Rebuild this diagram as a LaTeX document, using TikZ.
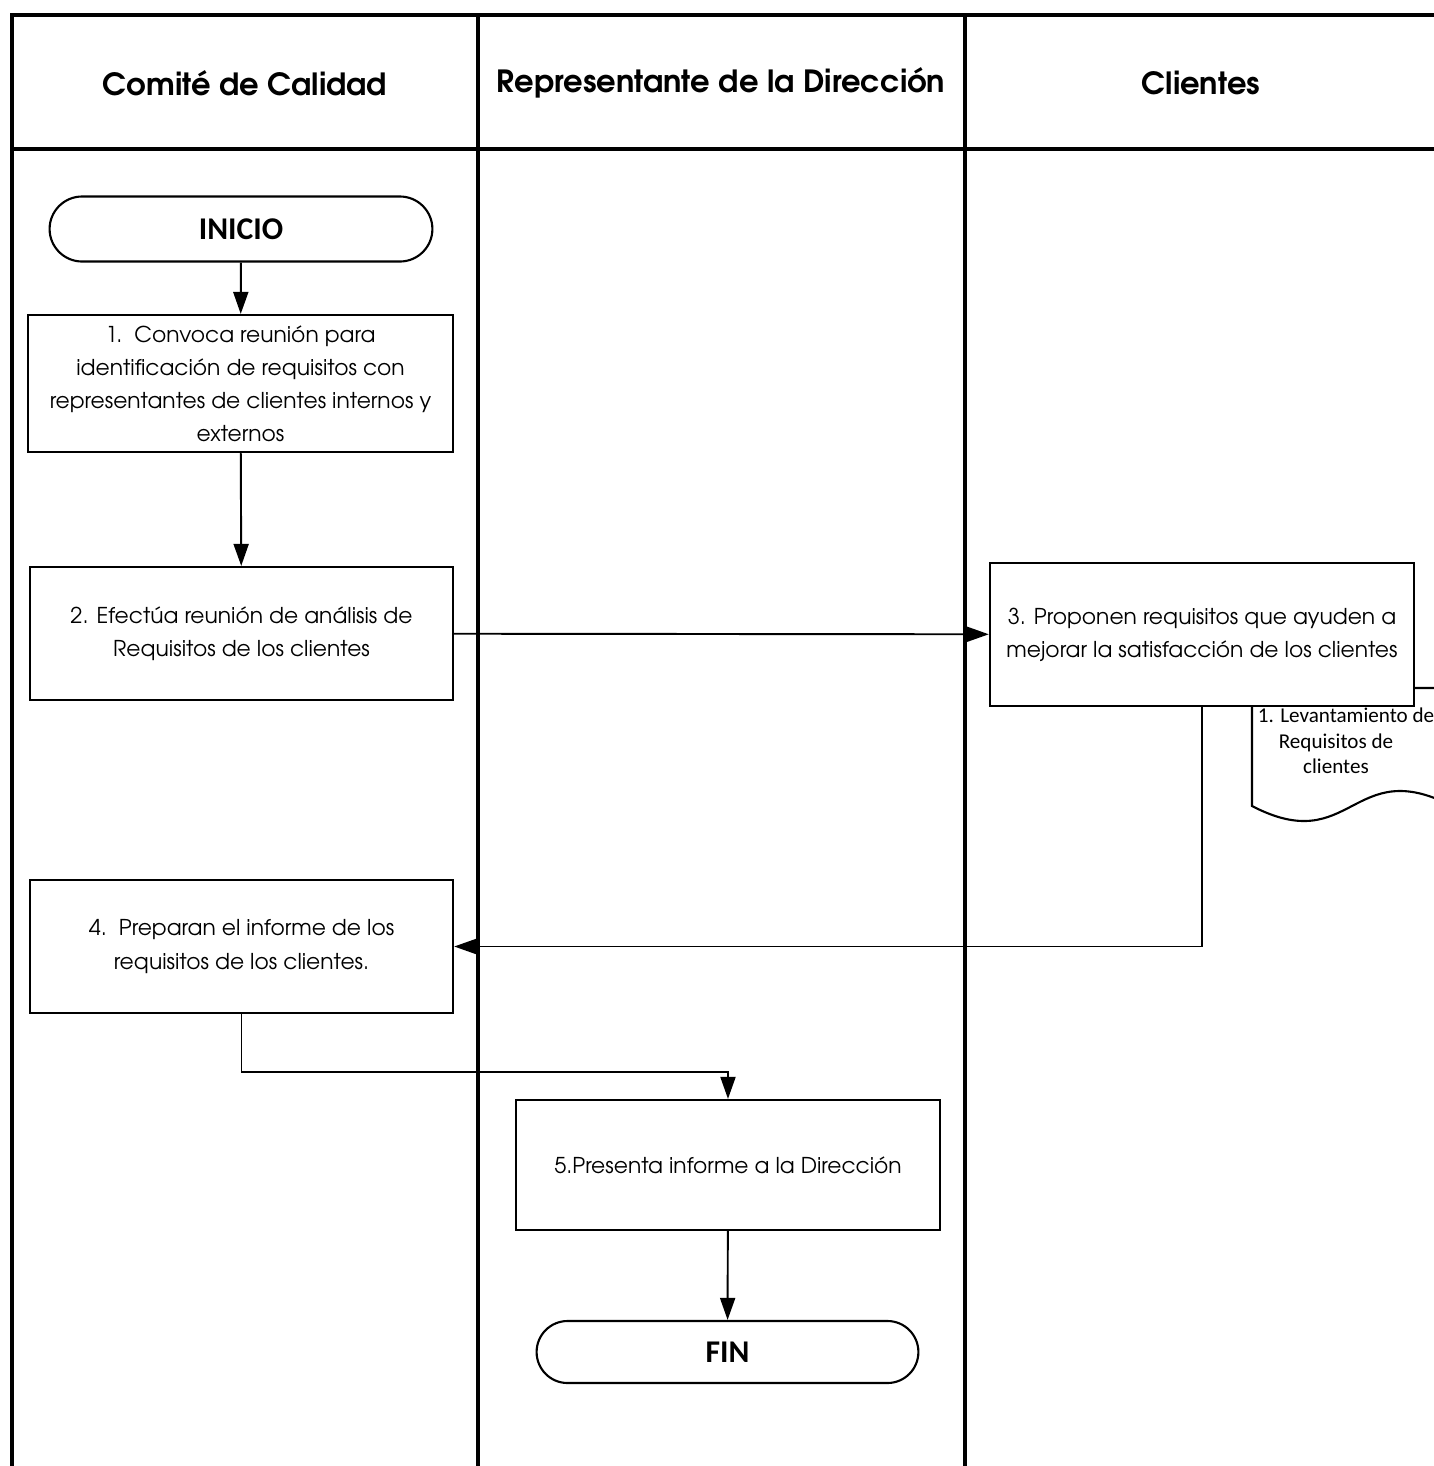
\documentclass[tikz,border=0pt]{standalone}
\usepackage{fontspec}
\newfontfamily\gothic{texgyreadventor}[Extension=.otf, UprightFont=*-regular, BoldFont=*-bold]
\newfontfamily\calib{Carlito}
\usetikzlibrary{shapes.misc,arrows.meta}

\begin{document}
\begin{tikzpicture}[
  x=0.01cm, y=-0.01cm,
  lane/.style={line width=1.3pt},
  title/.style={font=\gothic\bfseries\fontsize{8.7}{10}\selectfont},
  proc/.style={rectangle, draw, fill=white, line width=0.6pt, align=center, inner sep=2pt, font=\gothic\fontsize{6.2}{9.4}\selectfont},
  term/.style={rounded rectangle, draw, fill=white, line width=0.6pt, font=\calib\bfseries\fontsize{9}{11}\selectfont},
  doc/.style={font=\calib\fontsize{6}{7.3}\selectfont, align=center},
  arrow/.style={-{Triangle[length=0.22cm, width=0.15cm]}, line width=0.55pt},
]
\clip (0,0) rectangle (1434,1466);
\useasboundingbox (0,0) rectangle (1434,1466);

% --- swimlanes ---
\draw[lane] (12,15) -- (1450,15);
\draw[lane] (12,149) -- (1450,149);
\draw[lane] (12,13) -- (12,1480);
\draw[lane] (478,13) -- (478,1480);
\draw[lane] (965,13) -- (965,1480);

\node[title] (comite) at (245,83) {Comité de Calidad};
\node[title] (repre) at (721,83) {Representante de la Dirección};
\node[title] (clien) at (1201,83) {Clientes};

% --- documento de apoyo (detras de la actividad 3) ---
\draw[line width=0.6pt, fill=white] (1252,688) -- (1252,806)
  .. controls (1352,858) and (1352,754) .. (1452,806) -- (1460,806) -- (1460,688) -- cycle;
\node[doc] (levanta) at (1336,741) {\hspace*{0.2cm}1. Levantamiento de\\Requisitos de\\clientes};

% --- actividades ---
\node[term, minimum width=4.06cm, minimum height=0.65cm] (inicio) at (241,229) {INICIO};
\node[proc, minimum width=4.25cm, minimum height=1.37cm] (a1) at (240.5,383.5)
  {1.\ \ Convoca reunión para\\identificación de requisitos con\\representantes de clientes internos y\\externos};
\node[proc, minimum width=4.23cm, minimum height=1.33cm] (a2) at (241.5,633.5)
  {2. Efectúa reunión de análisis de\\Requisitos de los clientes};
\node[proc, minimum width=4.24cm, minimum height=1.43cm] (a3) at (1202,634.5)
  {3. Proponen requisitos que ayuden a\\mejorar la satisfacción de los clientes};
\node[proc, minimum width=4.23cm, minimum height=1.33cm] (a4) at (241.5,946.5)
  {4.\ \ Preparan el informe de los\\requisitos de los clientes.};
\node[proc, minimum width=4.24cm, minimum height=1.30cm] (a5) at (728,1165)
  {5.Presenta informe a la Dirección};
\node[term, minimum width=4.05cm, minimum height=0.62cm] (fin) at (727.5,1352) {FIN};

% --- flujo ---
\draw[arrow] (inicio) -- (a1);
\draw[arrow] (a1) -- (a2);
\draw[arrow] (a2) -- (a3);
\draw[arrow] (a3.south) |- (a4.east);
\draw[arrow] (a4.south) -- ++(0,58) -| (a5.north);
\draw[arrow] (a5) -- (fin);
\end{tikzpicture}
\end{document}
